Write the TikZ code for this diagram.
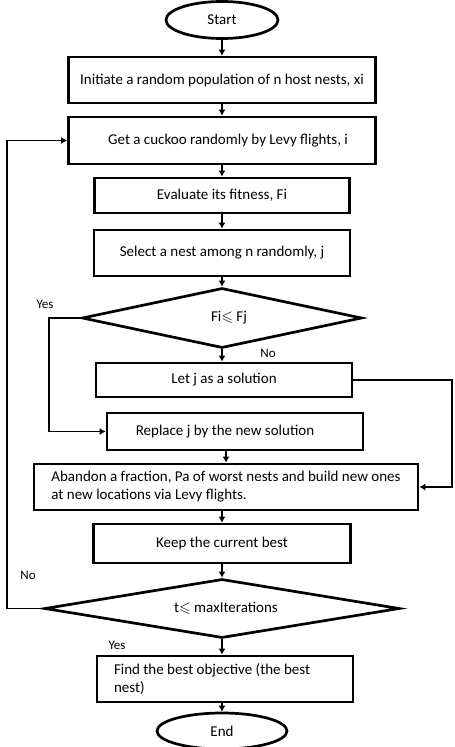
\documentclass[tikz,border=0pt]{standalone}
\usepackage{amssymb}
\usepackage{fontspec}
\setmainfont{Carlito}
\usetikzlibrary{shapes.geometric,arrows.meta}
\tikzset{
  proc/.style={draw, line width=2.7pt, inner sep=0pt, font=\fontsize{15}{18}\selectfont},
  term/.style={proc, ellipse},
  decide/.style={proc, diamond, aspect=6},
  arr/.style={line width=1.8pt, -{Latex[length=6pt,width=7pt]}},
  tag/.style={font=\fontsize{13}{15}\selectfont}
}
\begin{document}
\begin{tikzpicture}[x=1pt, y=-1pt]
    \useasboundingbox (0,0) rectangle (455,747);

    % Main column
    \node[term, minimum width=112, minimum height=37] (start) at (222,20) {Start};
    \node[proc, minimum width=307, minimum height=46] (init) at (222,80) {Initiate a random population of n host nests, xi};
    \node[proc, minimum width=307, minimum height=47] (levy) at (222,140.5) {\hspace*{12pt}Get a cuckoo randomly by Levy flights, i};
    \node[proc, minimum width=255, minimum height=35] (eval) at (222,195.5) {Evaluate its fitness, Fi};
    \node[proc, minimum width=256, minimum height=46] (pick) at (222,253) {Select a nest among n randomly, j};
    \node[decide, minimum width=280, minimum height=60] (cmp) at (222,318) {\hspace*{14pt}Fi$\leqslant$ Fj};
    \node[proc, minimum width=256, minimum height=34] (letj) at (224,380) {Let j as a solution};
    \node[proc, minimum width=256, minimum height=37] (repl) at (235,431.5) {Replace j by the new solution\hspace*{20pt}};
    \node[proc, minimum width=384, minimum height=46, align=left] (aband) at (226,487)
        {Abandon a fraction, Pa of worst nests and build new ones\\at new locations via Levy flights.};
    \node[proc, minimum width=257, minimum height=39] (keep) at (222,543.5) {Keep the current best};
    \node[decide, minimum width=355, minimum height=59] (loop) at (222,608.5) {\hspace*{8pt}t$\leqslant$ maxIterations};
    \node[proc, minimum width=256, minimum height=46, text width=222, align=flush left] (best) at (225,679)
        {Find the best objective (the best\\nest)};
    \node[term, minimum width=130, minimum height=36] (finish) at (222,731) {End};

    % Labels on branches
    \node[tag] (yes1) at (45,304) {Yes};
    \node[tag] (no1) at (268,353) {No};
    \node[tag] (no2) at (28,575) {No};
    \node[tag] (yes2) at (117,645) {Yes};

    % Straight flow
    \draw[arr] (start) -- (init);
    \draw[arr] (init) -- (levy);
    \draw[arr] (levy) -- (eval);
    \draw[arr] (eval) -- (pick);
    \draw[arr] (pick) -- (cmp);
    \draw[arr] (cmp.south) -- (cmp.south |- letj.north);
    \draw[arr] (repl.south -| aband.north) -- (aband.north);
    \draw[arr] (aband.south -| keep.north) -- (keep.north);
    \draw[arr] (keep) -- (loop);
    \draw[arr] (loop.south) -- (loop.south |- best.north);
    \draw[arr] (best.south -| finish.north) -- (finish.north);

    % Side branches
    \draw[arr] (cmp.west) -- (49,318) |- (repl.west);
    \draw[arr] (letj.east) -- (452,380) |- (aband.east);
    \draw[arr] (loop.west) -- (7,608.5) |- (levy.west);
\end{tikzpicture}
\end{document}
